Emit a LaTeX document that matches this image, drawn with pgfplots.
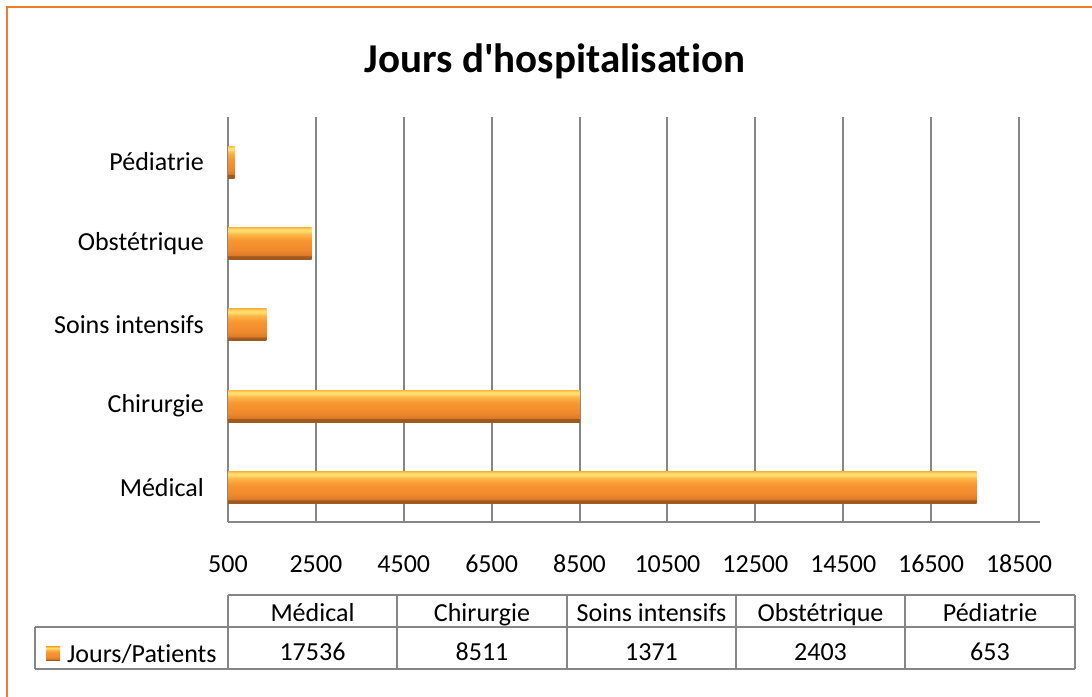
\documentclass[border=0pt]{standalone}
\usepackage{fontspec}
\setmainfont{Carlito}[Ligatures=NoCommon]
\usepackage{pgfplots}
\pgfplotsset{compat=1.18}
\definecolor{gridgray}{RGB}{134,134,134}
\definecolor{frameorange}{RGB}{238,125,40}
\definecolor{bA}{RGB}{160,90,32}
\definecolor{bB}{RGB}{220,122,40}
\definecolor{bC}{RGB}{240,138,45}
\definecolor{bD}{RGB}{248,150,48}
\definecolor{bE}{RGB}{252,185,75}
\definecolor{bF}{RGB}{255,220,110}
\definecolor{bG}{RGB}{250,185,68}
\pgfdeclareverticalshading{barshade}{100bp}{color(0bp)=(bA); color(25bp)=(bA); color(30bp)=(bA); color(31.5bp)=(bB); color(40bp)=(bC); color(55bp)=(bD); color(65bp)=(bE); color(69bp)=(bF); color(72bp)=(bF); color(75bp)=(bG); color(100bp)=(bG)}
\pgfplotsset{barsty/.style={xbar, bar width=32pt, bar shift=0pt, draw=none, shade, shading=barshade,
  legend image code/.code={\path[shade, shading=barshade] (0pt,-7pt) rectangle (14pt,7pt); \path (19pt,0pt);}}}
\begin{document}
\begin{tikzpicture}[font=\fontsize{26}{31}\selectfont]
\useasboundingbox (0pt,0pt) rectangle (1092pt,-696pt);
\draw[frameorange, line width=2.5pt] (7pt,-700pt) -- (7pt,-7pt) -- (1100pt,-7pt);
\node[font=\fontsize{41}{49}\selectfont\bfseries, anchor=base, inner sep=0pt] at (555pt,-72pt) {Jours d\textquotesingle hospitalisation};
\begin{axis}[
  at={(228pt,-522pt)}, anchor=south west,
  scale only axis, width=812pt, height=405pt,
  xmin=500, xmax=18978, ymin=-0.424, ymax=4.553,
  axis lines*=left,
  axis line style={gridgray, line width=2pt},
  xtick={500,2500,4500,6500,8500,10500,12500,14500,16500,18500},
  scaled x ticks=false,
  ytick={0,1,2,3,4},
  yticklabels={Médical,Chirurgie,Soins intensifs,Obstétrique,Pédiatrie},
  major tick length=0pt,
  xmajorgrids, major grid style={gridgray, line width=2pt},
  xticklabel style={inner sep=0pt, yshift=-33pt},
  yticklabel style={inner sep=0pt, xshift=-24pt},
  /pgf/number format/assume math mode=true,
  /pgf/number format/1000 sep={},
  tick label style={font=\fontsize{26}{31}\selectfont},
  legend style={at={(-0.2242,-0.3255)}, anchor=west, draw=none, fill=none, inner sep=0pt, font=\fontsize{26}{31}\selectfont},
]
\addplot[barsty] coordinates {(17536,0)};
\addlegendentry{Jours/Patients}
\addplot[barsty, forget plot] coordinates {(8511,1)};
\addplot[barsty, forget plot] coordinates {(1371,2)};
\addplot[barsty, forget plot] coordinates {(2403,3)};
\addplot[barsty, forget plot] coordinates {(653,4)};
\end{axis}
\begin{scope}[gridgray, line width=2pt]
\draw (228pt,-595pt) -- (1075pt,-595pt);
\draw (35pt,-627pt) -- (1075pt,-627pt);
\draw (35pt,-669pt) -- (1075pt,-669pt);
\draw (35pt,-627pt) -- (35pt,-669pt);
\foreach \x in {228,397,567,736,905,1075} \draw (\x pt,-595pt) -- (\x pt,-669pt);
\end{scope}
\foreach \x/\t in {312.5/Médical,482/Chirurgie,651.5/Soins intensifs,820.5/Obstétrique,990/Pédiatrie}
  \node[anchor=base, inner sep=0pt] at (\x pt,-621.5pt) {\t};
\foreach \x/\t in {312.5/17536,482/8511,651.5/1371,820.5/2403,990/653}
  \node[anchor=base, inner sep=0pt] at (\x pt,-660pt) {\t};
\end{tikzpicture}
\end{document}
